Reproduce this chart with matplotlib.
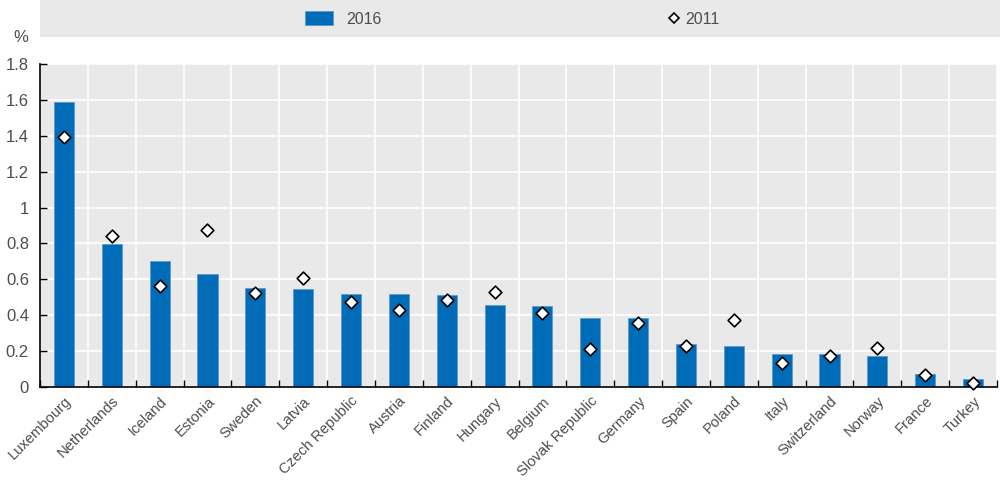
import numpy as np
import matplotlib.pyplot as plt
from matplotlib.patches import Patch, Rectangle
from matplotlib.lines import Line2D

plt.rcParams['font.family'] = ['Liberation Sans', 'DejaVu Sans']

countries = ["Luxembourg", "Netherlands", "Iceland", "Estonia", "Sweden", "Latvia",
             "Czech Republic", "Austria", "Finland", "Hungary", "Belgium",
             "Slovak Republic", "Germany", "Spain", "Poland", "Italy", "Switzerland",
             "Norway", "France", "Turkey"]
val_2016 = [1.59, 0.795, 0.70, 0.63, 0.55, 0.545, 0.52, 0.52, 0.51, 0.455, 0.45,
            0.386, 0.386, 0.238, 0.23, 0.182, 0.182, 0.175, 0.072, 0.043]
val_2011 = [1.393, 0.843, 0.561, 0.875, 0.526, 0.609, 0.475, 0.429, 0.483, 0.53, 0.414,
            0.21, 0.358, 0.227, 0.375, 0.132, 0.171, 0.219, 0.069, 0.022]
y_ticks = [0, 0.2, 0.4, 0.6, 0.8, 1, 1.2, 1.4, 1.6, 1.8]
y_labels = ["0", "0.2", "0.4", "0.6", "0.8", "1", "1.2", "1.4", "1.6", "1.8"]

blue = '#006bb6'
bg = '#e9e9e9'
txt = '#4d4d4d'

fig = plt.figure(figsize=(10, 4.8), dpi=100)
ax = fig.add_axes([0.04, 1 - 387 / 480, 0.957, (387 - 64) / 480])
ax.set_facecolor(bg)

x = np.arange(len(countries))
ax.bar(x, val_2016, width=0.42, color=blue, edgecolor='#5b9bd0', linewidth=0.6, zorder=2)
ax.scatter(x, val_2011, marker='D', s=42, facecolor='white', edgecolor='black',
           linewidth=1.2, zorder=3, clip_on=False)

ax.set_xlim(-0.5, len(countries) - 0.5)
ax.set_ylim(0, 1.8)
ax.set_yticks(y_ticks)
ax.set_yticklabels(y_labels)
ax.set_xticks(x)
ax.set_xticklabels(countries, rotation=45, ha='right', va='top', rotation_mode='anchor')
ax.set_xticks(np.arange(-0.5, len(countries)), minor=True)

ax.tick_params(axis='x', which='major', length=0, pad=5, labelsize=10.6, labelcolor=txt)
ax.tick_params(axis='x', which='minor', direction='in', length=5, width=1, color='black')
ax.tick_params(axis='y', which='major', direction='in', length=5, width=1, color='black',
               labelsize=12, labelcolor=txt, pad=8)

ax.grid(axis='y', which='major', color='white', linewidth=1.2, zorder=0)
ax.grid(axis='x', which='minor', color='white', linewidth=1.2, zorder=0)
ax.set_axisbelow(True)
for s in ['top', 'right']:
    ax.spines[s].set_visible(False)
ax.spines['left'].set_color('black')
ax.spines['bottom'].set_color('black')
ax.spines['left'].set_linewidth(1.2)
ax.spines['bottom'].set_linewidth(1.2)

fig.text(0.013, 1 - 37 / 480, '%', fontsize=12, color=txt, va='center')

# legend band
fig.patches.append(Rectangle((0.04, 1 - 37 / 480), 0.96, 37 / 480,
                             transform=fig.transFigure, facecolor=bg, edgecolor='none', zorder=0))
h1 = Patch(facecolor=blue, edgecolor='#5b9bd0', linewidth=0.6)
h2 = Line2D([], [], marker='D', linestyle='none', markersize=5, markerfacecolor='white',
            markeredgecolor='black', markeredgewidth=1.2)
fig.legend([h1], ['2016'], loc='center left', bbox_to_anchor=(0.291, 1 - 19 / 480),
           frameon=False, fontsize=11.5, handlelength=1.7, handleheight=0.9,
           handletextpad=0.85, labelcolor=txt)
fig.legend([h2], ['2011'], loc='center left', bbox_to_anchor=(0.653, 1 - 19 / 480),
           frameon=False, fontsize=11.5, handlelength=0.8, handletextpad=0.3, labelcolor=txt)

fig.savefig('out.png', dpi=100)
